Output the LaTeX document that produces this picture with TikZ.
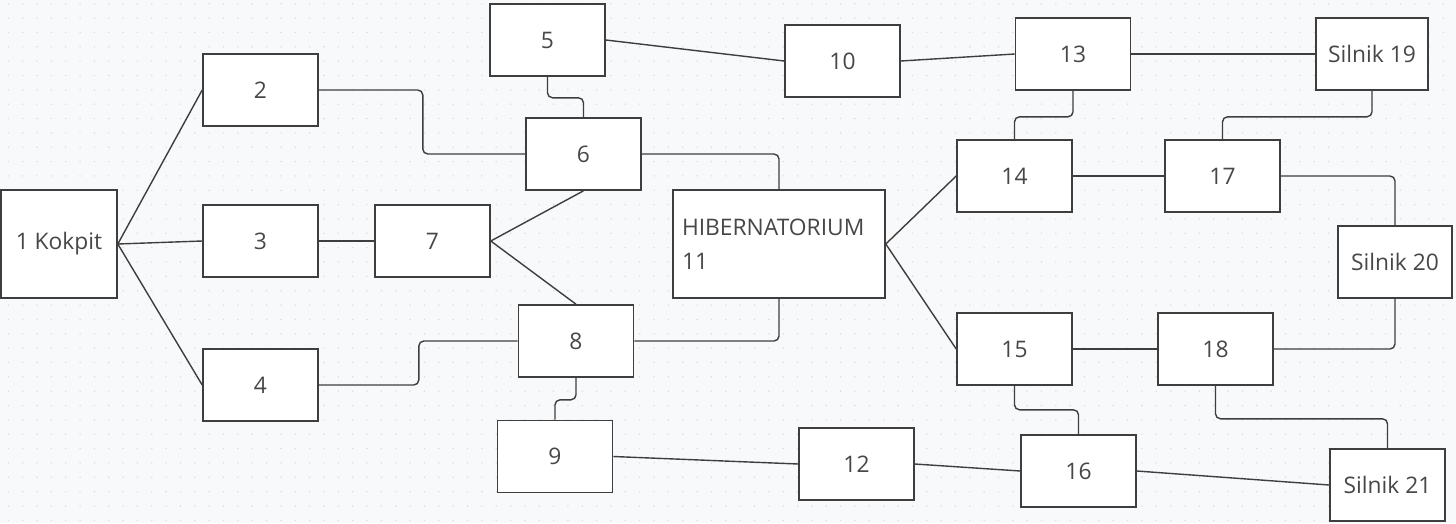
\documentclass[tikz,border=0pt]{standalone}
\usepackage{fontspec}
\setmainfont{Open Sans}
\usetikzlibrary{calc}
\definecolor{bgc}{HTML}{F8F9FB}
\definecolor{dotc}{HTML}{DADBE1}
\definecolor{linec}{HTML}{3E3E3E}
\definecolor{txtc}{HTML}{474747}
\tikzset{
  box/.style={draw=linec, line width=1.6pt, fill=white, rectangle, inner sep=0pt,
    minimum width=115pt, minimum height=72pt, text=txtc,
    font=\fontsize{22.8}{34}\selectfont},
  conn/.style={draw=linec, line width=1.4pt, rounded corners=5pt},
}
\begin{document}
\begin{tikzpicture}[x=1pt,y=-1pt]
\fill[bgc] (0,0) rectangle (1456,523);
\useasboundingbox (0,0) rectangle (1456,523);
\foreach \i in {0,...,101} {
  \foreach \j in {0,...,36} {
    \fill[dotc] ({8.3+14.35*\i},{3.7+14.35*\j}) circle (0.8);
  }
}
% nodes
\node[box, minimum width=116pt, minimum height=108pt] (k1) at (59,244) {1 Kokpit};
\node[box] (n2) at (260.5,90) {2};
\node[box] (n3) at (260.5,241) {3};
\node[box] (n4) at (260.5,385) {4};
\node[box] (n7) at (432.5,241) {7};
\node[box] (n5) at (547.5,40) {5};
\node[box] (n6) at (583.5,154) {6};
\node[box] (n8) at (576,341) {8};
\node[box] (n9) at (555,456.5) {9};
\node[box] (n10) at (842.5,61) {10};
\node[box, minimum width=212pt, minimum height=108pt, text width=194pt, align=left] (n11) at (779,244) {\raisebox{-2pt}{HIBERNATORIUM}\\\raisebox{-2pt}{11}};
\node[box] (n12) at (856.5,464) {12};
\node[box] (n13) at (1073,54) {13};
\node[box, minimum width=112pt] (n19) at (1372,54) {Silnik 19};
\node[box] (n14) at (1014.5,176) {14};
\node[box] (n17) at (1222.5,176) {17};
\node[box, minimum width=114pt] (n20) at (1395,262) {Silnik 20};
\node[box] (n15) at (1014.5,349) {15};
\node[box] (n18) at (1215.5,349) {18};
\node[box] (n16) at (1078.5,471) {16};
\node[box] (n21) at (1387.5,485) {Silnik 21};
% connectors
\draw[conn] (k1.east) -- (n2.west);
\draw[conn] (k1.east) -- (n3.west);
\draw[conn] (k1.east) -- (n4.west);
\draw[conn] (n2.east) -- ++(104,0) |- (n6.west);
\draw[conn] (n3.east) -- (n7.west);
\draw[conn] (n7.east) -- (n6.south);
\draw[conn] (n7.east) -- (n8.north);
\draw[conn] (n4.east) -- ++(100,0) |- (n8.west);
\draw[conn] (n5.south) -- ++(0,21) -| (n6.north);
\draw[conn] (n5.east) -- (n10.west);
\draw[conn] (n6.east) -| (n11.north);
\draw[conn] (n8.east) -| (n11.south);
\draw[conn] (n8.south) -- ++(0,22) -| (n9.north);
\draw[conn] (n9.east) -- (n12.west);
\draw[conn] (n10.east) -- (n13.west);
\draw[conn] (n11.east) -- (n14.west);
\draw[conn] (n11.east) -- (n15.west);
\draw[conn] (n13.east) -- (n19.west);
\draw[conn] (n13.south) -- ++(0,26) -| (n14.north);
\draw[conn] (n14.east) -- (n17.west);
\draw[conn] (n19.south) -- ++(0,26) -| (n17.north);
\draw[conn] (n17.east) -| (n20.north);
\draw[conn] (n20.south) |- (n18.east);
\draw[conn] (n15.east) -- (n18.west);
\draw[conn] (n15.south) -- ++(0,24) -| (n16.north);
\draw[conn] (n18.south) -- ++(0,33) -| (n21.north);
\draw[conn] (n12.east) -- (n16.west);
\draw[conn] (n16.east) -- (n21.west);
\end{tikzpicture}
\end{document}
